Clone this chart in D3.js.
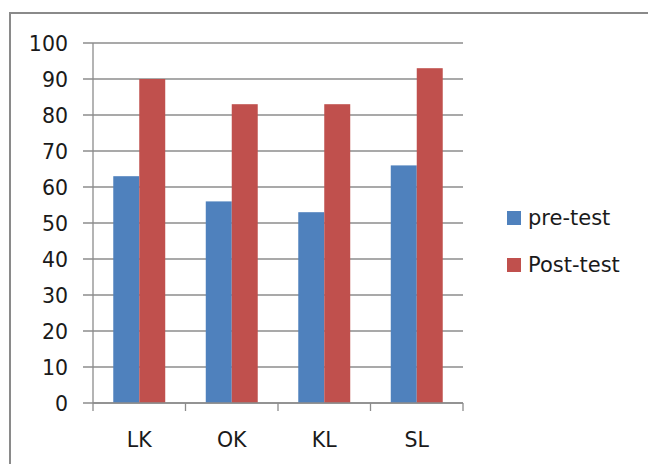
<!DOCTYPE html>
<html><head><meta charset="utf-8">
<script src="https://cdn.jsdelivr.net/npm/d3@7"></script>
<style>html,body{margin:0;padding:0;background:#fff;}svg{display:block;}</style>
</head><body>
<svg id="c" width="648" height="464"></svg>
<script>
const categories = ["LK", "OK", "KL", "SL"];
const seriesNames = ["pre-test", "Post-test"];
const preTest = [63, 56, 53, 66];
const postTest = [90, 83, 83, 93];
const yTicks = [0, 10, 20, 30, 40, 50, 60, 70, 80, 90, 100];
const colors = ["#4F81BD", "#C0504D"];

const svg = d3.select("#c");
const font = "DejaVu Sans, sans-serif";

// outer frame (left and top edges visible)
svg.append("path").attr("d", "M10,464 V13 H648").attr("fill", "none")
  .attr("stroke", "#8a8a8a").attr("stroke-width", 2);

const x0 = 93, x1 = 463, yTop = 43, yBot = 403;
const x = d3.scaleBand().domain(categories).range([x0, x1]).paddingInner(0).paddingOuter(0);
const y = d3.scaleLinear().domain([0, 100]).range([yBot, yTop]);
const inner = d3.scaleBand().domain(seriesNames).range([0, x.bandwidth()]).paddingInner(0).paddingOuter(0.78);

// gridlines
svg.append("g").selectAll("line").data(yTicks).join("line")
  .attr("x1", x0 - 10).attr("x2", x1)
  .attr("y1", d => y(d)).attr("y2", d => y(d))
  .attr("stroke", "#8c8c8c").attr("stroke-width", 1.3);

// y axis line
svg.append("line").attr("x1", x0).attr("x2", x0).attr("y1", yTop).attr("y2", yBot)
  .attr("stroke", "#8c8c8c").attr("stroke-width", 1.3);

// y labels
svg.append("g").selectAll("text").data(yTicks).join("text")
  .attr("x", 68).attr("y", d => y(d) + 7.5)
  .attr("text-anchor", "end").attr("font-family", font).attr("font-size", 20.5)
  .attr("fill", "#1a1a1a").text(d => d);

// bars
const data = categories.map((c, i) => ({ c, vals: [preTest[i], postTest[i]] }));
const groups = svg.append("g").selectAll("g").data(data).join("g")
  .attr("transform", d => `translate(${x(d.c)},0)`);
groups.selectAll("rect").data(d => d.vals.map((v, j) => ({ s: seriesNames[j], v, j })))
  .join("rect")
  .attr("x", d => inner(d.s)).attr("width", inner.bandwidth())
  .attr("y", d => y(d.v)).attr("height", d => yBot - y(d.v))
  .attr("fill", d => colors[d.j]);

// x axis line and ticks
svg.append("line").attr("x1", x0).attr("x2", x1).attr("y1", yBot).attr("y2", yBot)
  .attr("stroke", "#8c8c8c").attr("stroke-width", 1.3);
const tickXs = categories.map(c => x(c)).concat([x1]);
svg.append("g").selectAll("line").data(tickXs).join("line")
  .attr("x1", d => d).attr("x2", d => d).attr("y1", yBot).attr("y2", yBot + 8)
  .attr("stroke", "#8c8c8c").attr("stroke-width", 1.3);

// x labels
svg.append("g").selectAll("text").data(categories).join("text")
  .attr("x", d => x(d) + x.bandwidth() / 2).attr("y", 446.5)
  .attr("text-anchor", "middle").attr("font-family", font).attr("font-size", 20.5)
  .attr("fill", "#1a1a1a").text(d => d);

// legend
const lg = svg.append("g").selectAll("g").data(seriesNames).join("g")
  .attr("transform", (d, i) => `translate(507,${211 + i * 47})`);
lg.append("rect").attr("width", 14).attr("height", 14).attr("fill", (d, i) => colors[i]);
lg.append("text").attr("x", 21).attr("y", 14).attr("font-family", font).attr("font-size", 21)
  .attr("fill", "#1a1a1a").text(d => d);
</script>
</body></html>
